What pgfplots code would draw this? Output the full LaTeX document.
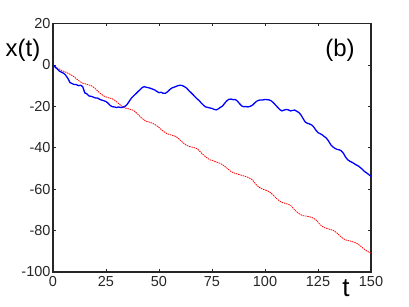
\documentclass[border=0pt]{standalone}
\usepackage{pgfplots}
\pgfplotsset{compat=1.18}
\usepackage{fontspec}
\setmainfont{Liberation Sans}
\begin{document}
\begin{tikzpicture}
\useasboundingbox (-53pt,-35pt) rectangle (356pt,272pt);
\begin{axis}[
  at={(0,0)}, anchor=south west,
  scale only axis, width=318pt, height=248.5pt,
  xmin=0, xmax=150, ymin=-100, ymax=20,
  xtick={0,25,50,75,100,125,150},
  ytick={-100,-80,-60,-40,-20,0,20},
  tick align=inside, major tick length=3pt,
  tick style={line width=0.8pt, black!85},
  axis line style={line width=1.1pt, black!85},
  every tick label/.append style={font=\fontsize{14.5}{15}\selectfont, text=black!85},
  /pgf/number format/assume math mode=true,
  xticklabel style={yshift=-0.5pt},
  yticklabel style={xshift=1pt},
  clip=true,
]
\addplot[red, line width=0.8pt, dash pattern=on 1.5pt off 0.8pt, smooth] coordinates {
(0,0) (2,-1.5) (4,-2.6) (6,-3.5) (8,-4.5) (10,-5.8) (12,-7.5) (14,-8.8) (16,-9.4) (18,-10)
(20,-11.5) (22,-13.5) (24,-15) (26,-15.8) (28,-16.4) (30,-17.8) (32,-19.6) (34,-20.8) (36,-21.3) (38,-22)
(40,-23.8) (42,-25.8) (44,-27.2) (46,-27.8) (48,-28.7) (50,-30.2) (52,-32) (54,-33.3) (56,-33.9) (58,-34.6)
(60,-36.3) (62,-38.2) (64,-39.3) (66,-39.8) (68,-40.5) (70,-42.5) (72,-44.4) (74,-45.8) (76,-46.5) (78,-47.2)
(80,-48.2) (82,-49.8) (84,-51.5) (86,-52.4) (88,-53) (90,-53.6) (92,-54.3) (94,-55.5) (96,-58) (98,-59.6)
(100,-60.4) (102,-61.2) (104,-63) (106,-65) (108,-66.4) (110,-67) (112,-67.8) (114,-70) (116,-71.8) (118,-72.8)
(120,-73.1) (122,-73.6) (124,-74.8) (126,-77.1) (128,-78.6) (130,-79.2) (132,-79.8) (134,-81.2) (136,-83.2) (138,-84.5)
(140,-85) (142,-85.6) (144,-86.6) (146,-88.3) (148,-89.8) (150,-91)
};
\addplot[blue, line width=1.3pt] coordinates {
(0,0) (1,-1) (2,-2) (3,-3) (4,-3.5) (5,-4) (6,-5) (7,-6.5) (8,-8.5) (9,-9)
(10,-9.5) (11,-9.5) (12,-10) (13,-9.8) (14,-10.5) (15,-13.5) (16,-14) (17,-15) (18,-15.2) (19,-15.5)
(20,-16) (21,-16) (22,-16.6) (23,-17) (24,-17.3) (25,-17.7) (26,-18.5) (27,-19.6) (28,-20.2) (29,-20.3)
(30,-20.6) (31,-20.3) (32,-20.6) (33,-20.4) (34,-20) (35,-19) (36,-17.5) (37,-16) (38,-15) (39,-14)
(40,-13) (41,-12) (42,-11) (43,-10.5) (44,-10.8) (45,-11) (46,-11.3) (47,-11.7) (48,-12.1) (49,-12.8)
(50,-13.4) (51,-13.2) (52,-13.7) (53,-13.7) (54,-13) (55,-12) (56,-11.2) (57,-10.8) (58,-10.4) (59,-10)
(60,-9.8) (61,-10) (62,-10.5) (63,-11.2) (64,-12.3) (65,-13.3) (66,-14.3) (67,-15.4) (68,-16.4) (69,-17.3)
(70,-18.5) (71,-19.5) (72,-20.3) (73,-20.5) (74,-20.8) (75,-21) (76,-21.5) (77,-21.7) (78,-21.2) (79,-20.5)
(80,-19.8) (81,-18.5) (82,-17.3) (83,-16.6) (84,-16.5) (85,-16.8) (86,-16.7) (87,-17.5) (88,-18.7) (89,-19.8)
(90,-20.2) (91,-20.1) (92,-20.3) (93,-20) (94,-19.5) (95,-18.5) (96,-17.6) (97,-17.1) (98,-16.9) (99,-16.9)
(100,-16.7) (101,-16.8) (102,-16.9) (103,-17.4) (104,-18.3) (105,-19.4) (106,-20.5) (107,-21.6) (108,-22.2) (109,-21.8)
(110,-21.5) (111,-21.7) (112,-22.2) (113,-22) (114,-21.8) (115,-22.4) (116,-23) (117,-24.2) (118,-26) (119,-27.6)
(120,-28.2) (121,-28.5) (122,-29) (123,-30) (124,-31.5) (125,-32.7) (126,-33.2) (127,-33.8) (128,-34.6) (129,-35.4)
(130,-36.8) (131,-38.5) (132,-39.6) (133,-40.3) (134,-40.8) (135,-41) (136,-41.5) (137,-42.7) (138,-44.5) (139,-45.8)
(140,-46.5) (141,-47) (142,-47.6) (143,-48.3) (144,-48.8) (145,-49.6) (146,-50.5) (147,-51.5) (148,-52.2) (149,-53)
(150,-53.8)
};
\end{axis}
\node[font=\fontsize{24}{26}\selectfont] at (-30pt,222pt) {x(t)};
\node[font=\fontsize{24}{26}\selectfont] at (287pt,222pt) {(b)};
\node[font=\fontsize{26}{28}\selectfont] at (293pt,-16pt) {t};
\end{tikzpicture}
\end{document}
